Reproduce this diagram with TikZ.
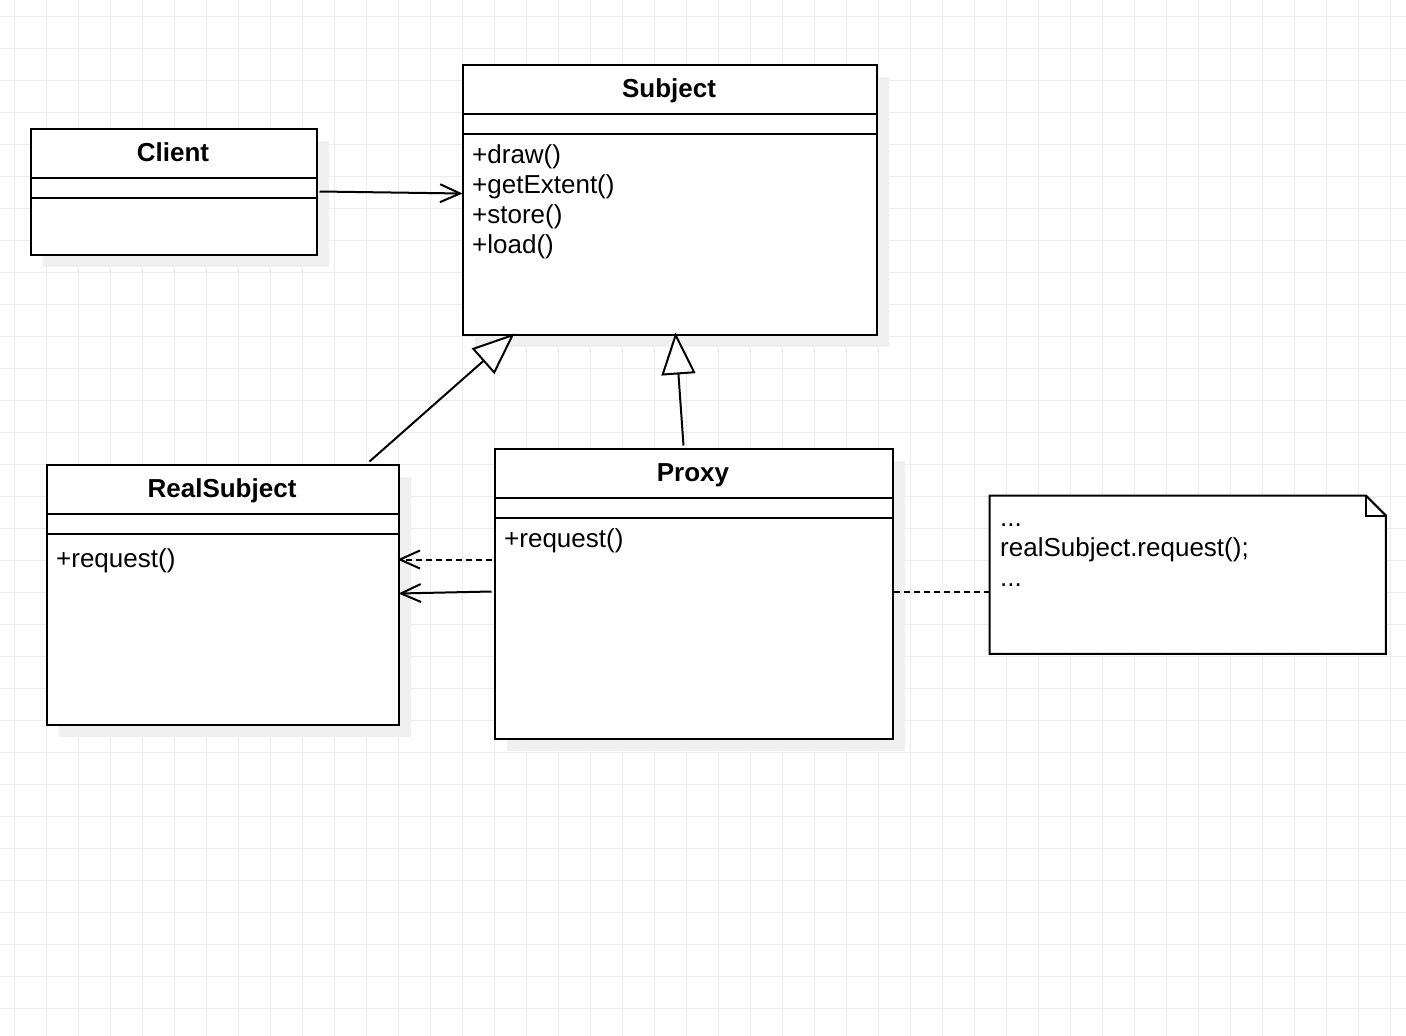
\documentclass[tikz,border=0pt]{standalone}
\usepackage{fontspec}
\setmainfont{Liberation Sans}
\usetikzlibrary{arrows.meta,calc}
\begin{document}
\begin{tikzpicture}[x=1pt,y=-1pt,
  gridline/.style={draw=black!7.5,line width=1pt},
  shadowbox/.style={fill=black!6,draw=none},
  classbox/.style={draw,line width=2pt,fill=white,rectangle,inner sep=0pt,anchor=north west},
  sep/.style={line width=2pt},
  title/.style={font=\fontsize{26}{30}\selectfont\bfseries,inner sep=0pt,anchor=base},
  member/.style={font=\fontsize{26}{30}\selectfont,inner sep=0pt,anchor=base west},
  conn/.style={line width=2pt},
  openarrow/.style={-{Straight Barb[length=20pt,width=18pt,line width=2pt]}},
  inherit/.style={-{Triangle[length=42pt,width=34pt,fill=white,line width=2pt]}},
  dashline/.style={dash pattern=on 6pt off 4pt}
]
\useasboundingbox (0,0) rectangle (1406,1036);
\fill[white] (0,0) rectangle (1406,1036);
% grid
\foreach \gx in {14,46,...,1406} \draw[gridline] (\gx,0) -- (\gx,1036);
\foreach \gy in {16,48,...,1036} \draw[gridline] (0,\gy) -- (1406,\gy);
% shadows
\fill[shadowbox] (43,141) rectangle (329,267);
\fill[shadowbox] (475,77) rectangle (889,347);
\fill[shadowbox] (59,477) rectangle (411,737);
\fill[shadowbox] (507,461) rectangle (905,751);
% classes
\node[classbox,minimum width=286pt,minimum height=126pt] (client) at (29.5,127.5) {};
\draw[sep] ($(client.north west)+(0,50)$) -- ($(client.north east)+(0,50)$);
\draw[sep] ($(client.north west)+(0,70)$) -- ($(client.north east)+(0,70)$);
\node[title] (clientT) at (173,161.5) {Client};

\node[classbox,minimum width=414pt,minimum height=270pt] (subject) at (461.5,63.5) {};
\draw[sep] ($(subject.north west)+(0,50)$) -- ($(subject.north east)+(0,50)$);
\draw[sep] ($(subject.north west)+(0,70)$) -- ($(subject.north east)+(0,70)$);
\node[title] (subjectT) at (669,97.5) {Subject};
\node[member] (m1) at (472,163) {+draw()};
\node[member] (m2) at (472,193) {+getExtent()};
\node[member] (m3) at (472,223) {+store()};
\node[member] (m4) at (472,253) {+load()};

\node[classbox,minimum width=352pt,minimum height=260pt] (real) at (45.5,463.5) {};
\draw[sep] ($(real.north west)+(0,50)$) -- ($(real.north east)+(0,50)$);
\draw[sep] ($(real.north west)+(0,70)$) -- ($(real.north east)+(0,70)$);
\node[title] (realT) at (222,497.5) {RealSubject};
\node[member] (r1) at (56,567) {+request()};

\node[classbox,minimum width=398pt,minimum height=290pt] (proxy) at (493.5,447.5) {};
\draw[sep] ($(proxy.north west)+(0,50)$) -- ($(proxy.north east)+(0,50)$);
\draw[sep] ($(proxy.north west)+(0,70)$) -- ($(proxy.north east)+(0,70)$);
\node[title] (proxyT) at (693,481.5) {Proxy};
\node[member] (p1) at (504,547) {+request()};

% note
\node[rectangle,inner sep=0pt,minimum width=396pt,minimum height=158pt,anchor=north west] (note) at (989.5,495.5) {};
\draw[line width=2pt,fill=white,line join=miter] (note.north west) -- ($(note.north east)+(-20,0)$) -- ($(note.north east)+(0,20)$) -- (note.south east) -- (note.south west) -- cycle;
\draw[line width=2pt] ($(note.north east)+(-20,0)$) -- ($(note.north east)+(-20,20)$) -- ($(note.north east)+(0,20)$);
\node[member] (n1) at (1000,526) {...};
\node[member] (n2) at (1000,556) {realSubject.request();};
\node[member] (n3) at (1000,586) {...};

% connectors
\draw[conn,openarrow] ($(client.north east)+(2,64)$) -- ($(subject.north west)+(1,130)$);
\draw[conn,inherit] ($(real.north west)+(324,-2)$) -- ($(subject.south west)+(53,-2)$);
\draw[conn,inherit] ($(proxy.north west)+(190,-2)$) -- ($(subject.south west)+(214,-3)$);
\draw[conn,dashline,openarrow] ($(proxy.north west)+(-2,112)$) -- ($(real.north east)+(-2,96)$);
\draw[conn,openarrow] ($(proxy.north west)+(-2,144)$) -- ($(real.north east)+(-1,130)$);
\draw[conn,dashline] ($(proxy.north east)+(0,144)$) -- (note.west |- {$(proxy.north east)+(0,144)$});
\end{tikzpicture}
\end{document}
